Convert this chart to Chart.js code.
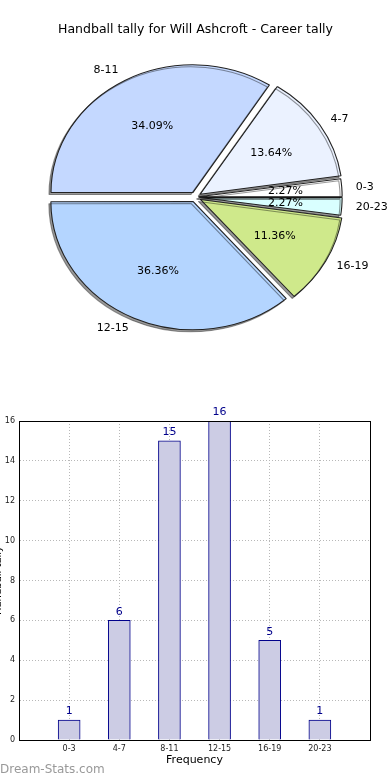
<!DOCTYPE html>
<html>
<head>
<meta charset="utf-8">
<script src="https://cdn.jsdelivr.net/npm/chart.js@4.4.1/dist/chart.umd.min.js"></script>
<style>
  html, body { margin: 0; padding: 0; background: #fff; overflow: hidden; width: 390px; height: 780px; }
  #pie { position: absolute; left: 0; top: 0; }
  #bars { position: absolute; left: -10px; top: 380px; }
  #mark { position: absolute; left: 0; top: 762px; font: 12px "DejaVu Sans", sans-serif; color: #999; }
</style>
</head>
<body>
<canvas id="pie" width="390" height="380"></canvas>
<canvas id="bars" width="400" height="400"></canvas>
<div id="mark">Dream-Stats.com</div>
<script>
// handball tally per time band
var categories = ["0-3", "4-7", "8-11", "12-15", "16-19", "20-23"];
var tallies = [1, 6, 15, 16, 5, 1];
var sliceColors = ["#ffffff", "#ebf2ff", "#c4d8ff", "#b4d5ff", "#cfe98b", "#d9ffff"];
var yTicks = [0, 2, 4, 6, 8, 10, 12, 14, 16];

var total = tallies.reduce(function (a, b) { return a + b; }, 0);
var stretch = 1.11; // pie is drawn a bit wider than tall

// matplotlib goes counter-clockwise, chart.js clockwise -> reverse
var pieLabels = categories.slice().reverse();
var pieValues = tallies.slice().reverse();
var pieColors = sliceColors.slice().reverse();
// thin slices get pushed out less (chart.js also grows their radius)
var pieOffsets = pieValues.map(function (v) { return v / total < 0.05 ? 11 : 20; });

var ellipse = {
    id: "ellipse",
    beforeDatasetsDraw: function (chart) {
        var arc = chart.getDatasetMeta(0).data[0];
        var ctx = chart.ctx;
        ctx.save();
        ctx.translate(arc.x, arc.y);
        ctx.scale(stretch, 1);
        ctx.translate(-arc.x, -arc.y);
        ctx.shadowColor = "rgba(0,0,0,0.4)";
        ctx.shadowOffsetX = -2;
        ctx.shadowOffsetY = 2;
        ctx.shadowBlur = 0;
    },
    afterDatasetsDraw: function (chart) {
        var ctx = chart.ctx;
        ctx.restore();
        ctx.save();
        ctx.font = "11px 'DejaVu Sans'";
        ctx.fillStyle = "#000";
        ctx.textBaseline = "middle";
        chart.getDatasetMeta(0).data.forEach(function (arc, i) {
            var mid = (arc.startAngle + arc.endAngle) / 2;
            var r = arc.outerRadius;
            var c = Math.cos(mid), s = Math.sin(mid);
            var d = r * 1.1 + 5;
            ctx.textAlign = c > 0 ? "left" : "right";
            ctx.fillText(pieLabels[i], arc.x + c * d * stretch, arc.y + s * d);
            var p = r * 0.6 + 5;
            ctx.textAlign = "center";
            ctx.fillText((pieValues[i] / total * 100).toFixed(2) + "%", arc.x + c * p * stretch, arc.y + s * p);
        });
        ctx.restore();
    }
};

new Chart(document.getElementById("pie"), {
    type: "pie",
    data: {
        labels: pieLabels,
        datasets: [{
            data: pieValues,
            backgroundColor: pieColors,
            borderColor: "#222",
            borderWidth: 1,
            offset: pieOffsets,
            hoverOffset: 0,
            clip: false
        }]
    },
    options: {
        responsive: false,
        animation: false,
        events: [],
        rotation: 90,
        layout: { padding: { left: 58, right: 57, top: 0, bottom: 45.5 } },
        plugins: {
            legend: { display: false },
            tooltip: { enabled: false },
            title: {
                display: true,
                text: "Handball tally for Will Ashcroft - Career tally",
                color: "#000",
                font: { family: "DejaVu Sans", size: 13, weight: "normal" },
                padding: { top: 22, bottom: 21.9 }
            }
        }
    },
    plugins: [ellipse]
});

// bar chart
var frame = {
    id: "frame",
    afterDatasetsDraw: function (chart) {
        var ctx = chart.ctx, a = chart.chartArea;
        ctx.save();
        ctx.font = "11px 'DejaVu Sans'";
        ctx.fillStyle = "#00008b";
        ctx.textAlign = "center";
        ctx.textBaseline = "bottom";
        chart.getDatasetMeta(0).data.forEach(function (bar, i) {
            ctx.fillText(String(tallies[i]), bar.x, bar.y - 3);
        });
        ctx.strokeStyle = "#000";
        ctx.lineWidth = 1;
        ctx.strokeRect(Math.round(a.left) + 0.5, Math.round(a.top) + 0.5, Math.round(a.right - a.left), Math.round(a.bottom - a.top));
        ctx.restore();
    }
};

var dotted = { color: "#b8b8b8", lineWidth: 1, drawTicks: false, offset: false };

new Chart(document.getElementById("bars"), {
    type: "bar",
    data: {
        datasets: [{
            data: categories.map(function (c, i) { return { x: i, y: tallies[i] }; }),
            backgroundColor: "#ccccE4",
            borderColor: "#00008b",
            borderWidth: 1,
            barThickness: 22
        }]
    },
    options: {
        responsive: false,
        animation: false,
        events: [],
        layout: { padding: { left: 0, right: 20, top: 41, bottom: 12 } },
        plugins: { legend: { display: false }, tooltip: { enabled: false } },
        scales: {
            x: {
                type: "linear",
                offset: false,
                min: -1,
                max: 6,
                afterBuildTicks: function (axis) {
                    axis.ticks = categories.map(function (c, i) { return { value: i }; });
                },
                afterFit: function (axis) { axis.height = 28; },
                ticks: {
                    padding: 4,
                    color: "#222",
                    font: { family: "DejaVu Sans", size: 8 },
                    callback: function (v) { return categories[v]; }
                },
                grid: dotted,
                border: { display: true, color: "#000", dash: [1, 2] },
                title: {
                    display: true,
                    text: "Frequency",
                    color: "#000",
                    font: { family: "DejaVu Sans", size: 11 },
                    padding: { top: 0, bottom: 1 }
                }
            },
            y: {
                min: 0,
                max: 16,
                afterBuildTicks: function (axis) {
                    axis.ticks = yTicks.map(function (v) { return { value: v }; });
                },
                afterFit: function (axis) { axis.width = 29; },
                ticks: {
                    padding: 4,
                    color: "#222",
                    font: { family: "DejaVu Sans", size: 8 }
                },
                grid: dotted,
                border: { display: true, color: "#000", dash: [1, 2] },
                title: {
                    display: true,
                    text: "Handball tally",
                    color: "#000",
                    font: { family: "DejaVu Sans", size: 10 },
                    padding: { top: 2.5, bottom: 0 }
                }
            }
        }
    },
    plugins: [frame]
});
</script>
</body>
</html>
